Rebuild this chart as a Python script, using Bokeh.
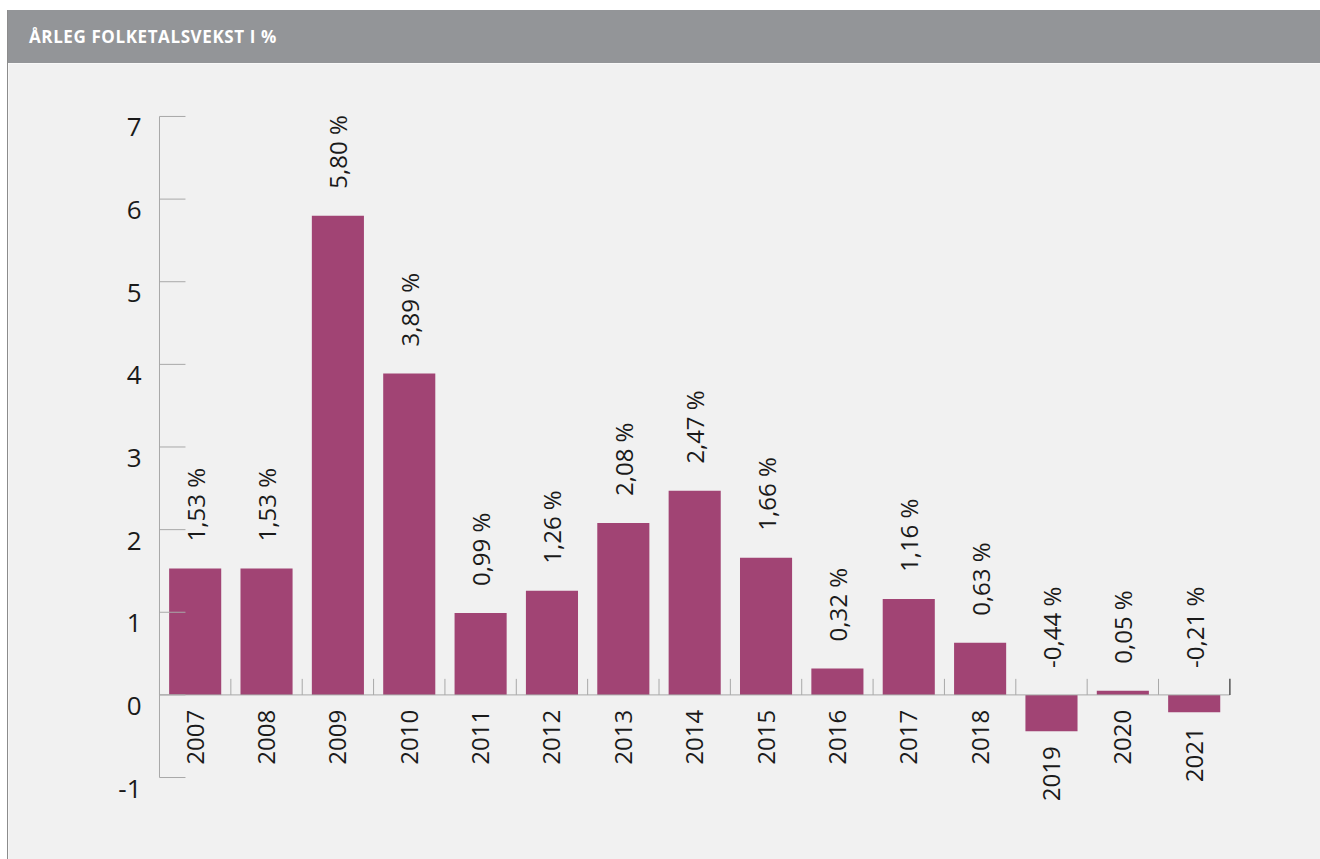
import math
from bokeh.plotting import figure
from bokeh.models import Div, Range1d, ColumnDataSource
from bokeh.layouts import column
from bokeh.embed import file_html
from bokeh.resources import INLINE
from bokeh.core.properties import value

title_text = "ÅRLEG FOLKETALSVEKST I %"
years = ["2007", "2008", "2009", "2010", "2011", "2012", "2013", "2014",
         "2015", "2016", "2017", "2018", "2019", "2020", "2021"]
growth = [1.53, 1.53, 5.80, 3.89, 0.99, 1.26, 2.08, 2.47,
          1.66, 0.32, 1.16, 0.63, -0.44, 0.05, -0.21]
y_ticks = [-1, 0, 1, 2, 3, 4, 5, 6, 7]
y_tick_labels = [str(t) for t in y_ticks]

FONT = "Open Sans"
BAR = "#a14474"
AXIS = "#a8a8a8"
BG = "#f1f1f1"

idx = list(range(len(years)))
labels = [f"{v:.2f}".replace(".", ",") + " %" for v in growth]
src = ColumnDataSource(dict(
    x=idx, top=growth, year=years, label=labels,
    ylab=[min(v, 0) for v in growth], yval=[max(v, 0) for v in growth],
))

W, H = 1312, 796
p = figure(width=W, height=H, output_backend="svg", toolbar_location=None,
           x_range=Range1d(-2.616, 15.77), y_range=Range1d(-1.992, 7.641),
           x_axis_type=None, y_axis_type=None, min_border=0, margin=0,
           background_fill_color=BG, border_fill_color=BG)
p.grid.visible = False
p.outline_line_color = None

p.vbar(x="x", top="top", bottom=0, width=0.73, source=src,
       fill_color=BAR, line_color=None)

# y axis
n = len(years)
p.segment(x0=[-0.5], y0=[y_ticks[0]], x1=[-0.5], y1=[y_ticks[-1]],
          line_color=AXIS, line_width=1)
p.segment(x0=[-0.5] * len(y_ticks), y0=y_ticks,
          x1=[-0.5 + 0.364] * len(y_ticks), y1=y_ticks,
          line_color=AXIS, line_width=1)
p.text(x=[-0.5] * len(y_ticks), y=y_ticks, text=y_tick_labels,
       x_offset=-18, y_offset=2, text_align="right", text_baseline="top",
       text_font=value(FONT), text_font_size="26px", text_color="#1a1a1a")

# x axis at zero
bounds = [i - 0.5 for i in range(n + 1)]
p.segment(x0=[-0.5], y0=[0], x1=[n - 0.5], y1=[0],
          line_color=AXIS, line_width=1)
p.segment(x0=bounds[:-1], y0=[0] * n, x1=bounds[:-1], y1=[0.194] * n,
          line_color=AXIS, line_width=1)
p.segment(x0=bounds[-1:], y0=[0], x1=bounds[-1:], y1=[0.194],
          line_color="#555555", line_width=1.5)

# category labels
p.text(x="x", y="ylab", text="year", source=src, angle=math.pi / 2,
       y_offset=15, text_align="right", text_baseline="middle",
       text_font=value(FONT), text_font_size="24px", text_color="#1a1a1a")
# value labels
p.text(x="x", y="yval", text="label", source=src, angle=math.pi / 2,
       y_offset=-27, text_align="left", text_baseline="middle",
       text_font=value(FONT), text_font_size="24px", text_color="#1a1a1a")

header = Div(text=('<span style="font-family:\'Open Sans\';font-weight:bold;'
                   'font-size:17px;letter-spacing:0.6px;color:#ffffff;">'
                   + title_text + '</span>'),
             width=W, height=53, margin=0,
             styles={"background-color": "#939598", "color": "white",
                     "line-height": "53px", "padding-left": "21px",
                     "box-sizing": "border-box"})

layout = column(header, p, spacing=0, margin=(10, 0, 0, 7),
                styles={"border-left": "1px solid #8c8c8c"})

open("out.html", "w").write(file_html(layout, INLINE))
